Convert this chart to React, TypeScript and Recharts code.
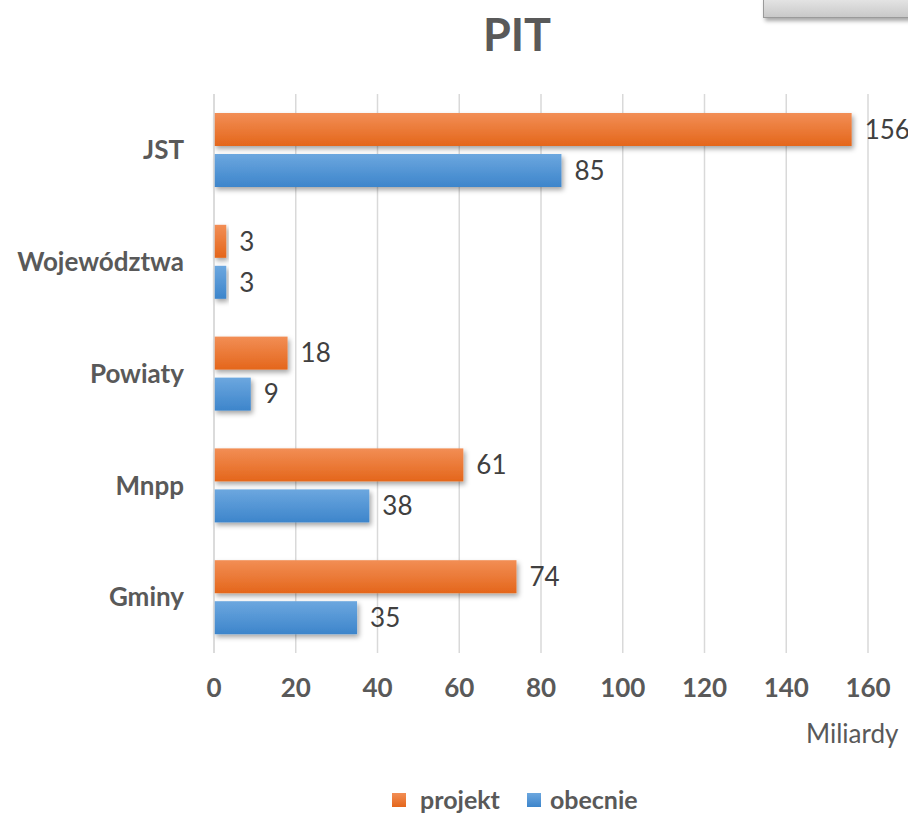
import React from "react";
import { BarChart, Bar, XAxis, YAxis, CartesianGrid, LabelList } from "recharts";

const categories = ["JST", "Województwa", "Powiaty", "Mnpp", "Gminy"];
const projekt = [156, 3, 18, 61, 74];
const obecnie = [85, 3, 9, 38, 35];
const xTicks = [0, 20, 40, 60, 80, 100, 120, 140, 160];

const data = categories.map((name, i) => ({ name, projekt: projekt[i], obecnie: obecnie[i] }));

const FONT = "Lato, 'Open Sans', sans-serif";
const GRAY = "#595959";

const ShadowBar = (props: any) => {
  const { x, y, width, height, fill } = props;
  if (!width || width <= 0) return null;
  return <rect x={x} y={y} width={width} height={height} fill={fill} filter="url(#barShadow)" />;
};

export default function App() {
  return (
    <div
      style={{
        position: "fixed",
        left: 0,
        top: 0,
        width: 908,
        height: 817,
        overflow: "hidden",
        background: "#fff",
        fontFamily: FONT,
      }}
    >
      <div
        style={{
          position: "absolute",
          left: 763,
          top: -3,
          width: 170,
          height: 19,
          background: "linear-gradient(#e6e6e6, #c9c9c9)",
          border: "1px solid #9a9a9a",
          boxShadow: "2px 3px 4px rgba(0,0,0,0.35)",
        }}
      />
      <div
        style={{
          position: "absolute",
          left: 0,
          width: 1034,
          top: 12,
          lineHeight: 1,
          textAlign: "center",
          fontSize: 45,
          fontWeight: 700,
          color: GRAY,
        }}
      >
        PIT
      </div>
      <BarChart
        width={908}
        height={817}
        data={data}
        layout="vertical"
        margin={{ top: 94, right: 40, bottom: 134, left: 0 }}
        barSize={33}
        barGap={8}
      >
        <defs>
          <linearGradient id="orangeFill" x1="0" y1="0" x2="0" y2="1">
            <stop offset="0%" stopColor="#F28E55" />
            <stop offset="100%" stopColor="#E4661B" />
          </linearGradient>
          <linearGradient id="blueFill" x1="0" y1="0" x2="0" y2="1">
            <stop offset="0%" stopColor="#6CA7DF" />
            <stop offset="100%" stopColor="#3D85CB" />
          </linearGradient>
          <filter id="barShadow" x="-10%" y="-20%" width="130%" height="160%">
            <feDropShadow dx="2" dy="3" stdDeviation="2.5" floodColor="#000" floodOpacity="0.35" />
          </filter>
        </defs>
        <CartesianGrid vertical horizontal={false} stroke="#D9D9D9" strokeWidth={1.5} />
        <XAxis
          type="number"
          domain={[0, 160]}
          ticks={xTicks}
          height={30}
          axisLine={false}
          tickLine={false}
          tickSize={0}
          tickMargin={26}
          tick={{ fill: GRAY, fontSize: 26, fontWeight: 700, fontFamily: FONT }}
        />
        <YAxis
          type="category"
          dataKey="name"
          width={214}
          axisLine={{ stroke: "#D9D9D9", strokeWidth: 1.5 }}
          tickLine={false}
          tickSize={0}
          tickMargin={30}
          tick={{ fill: GRAY, fontSize: 26, fontWeight: 700, fontFamily: FONT }}
        />
        <Bar dataKey="projekt" fill="url(#orangeFill)" shape={ShadowBar} isAnimationActive={false}>
          <LabelList dataKey="projekt" position="right" offset={13} fill="#404040" fontSize={26} fontFamily={FONT} />
        </Bar>
        <Bar dataKey="obecnie" fill="url(#blueFill)" shape={ShadowBar} isAnimationActive={false}>
          <LabelList dataKey="obecnie" position="right" offset={13} fill="#404040" fontSize={26} fontFamily={FONT} />
        </Bar>
      </BarChart>
      <div
        style={{
          position: "absolute",
          left: 806,
          top: 720,
          lineHeight: 1,
          fontSize: 26,
          color: GRAY,
        }}
      >
        Miliardy
      </div>
      <div
        style={{
          position: "absolute",
          left: 392,
          top: 787,
          lineHeight: 1,
          display: "flex",
          alignItems: "center",
          fontSize: 25,
          fontWeight: 700,
          color: GRAY,
        }}
      >
        <span style={{ width: 14, height: 14, background: "linear-gradient(#F28E55, #E4661B)", marginRight: 14 }} />
        <span style={{ marginRight: 27 }}>projekt</span>
        <span style={{ width: 14, height: 14, background: "linear-gradient(#6CA7DF, #3D85CB)", marginRight: 9 }} />
        <span>obecnie</span>
      </div>
    </div>
  );
}
